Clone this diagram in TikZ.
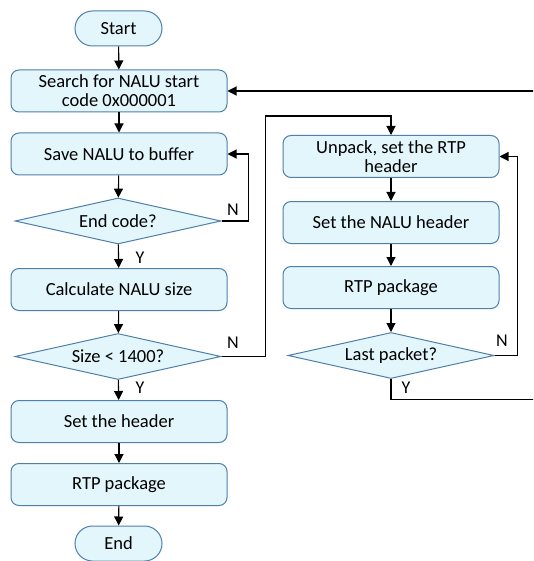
\documentclass[tikz,border=0pt]{standalone}
\usepackage{fontspec}
\setmainfont{Carlito}
\usetikzlibrary{shapes.geometric,shapes.misc,arrows.meta,calc}
\definecolor{boxfill}{RGB}{227,246,251}
\definecolor{boxline}{RGB}{78,128,170}
\tikzset{
  base/.style={draw=boxline, fill=boxfill, line width=1pt,
    font=\fontsize{18.5}{19}\selectfont, align=center, inner sep=0pt},
  proc/.style={base, rectangle, rounded corners=8pt,
    minimum width=216pt, minimum height=42pt},
  term/.style={base, rounded rectangle, minimum width=87pt, minimum height=35pt},
  decide/.style={base, diamond, aspect=4.5, minimum width=206pt, minimum height=46pt},
  arr/.style={draw=black, line width=1.1pt, -{Triangle[length=9pt,width=9pt]}},
  lab/.style={font=\fontsize{18}{19}\selectfont, inner sep=0pt}
}
\begin{document}
\begin{tikzpicture}[x=1pt,y=-1pt]
  \clip (0,0) rectangle (533,561);
  \fill[white] (0,0) rectangle (533,561);

  % main column
  \node[term]   (start)  at (118.5,28.5) {Start};
  \node[proc]   (search) at (119,91)    {Search for NALU start\\code 0x000001};
  \node[proc]   (save)   at (119,154)   {Save NALU to buffer};
  \node[decide] (endq)   at (118,221)   {End code?};
  \node[proc]   (calc)   at (119,289.5) {Calculate NALU size};
  \node[decide] (sizeq)  at (118,356.5) {Size < 1400?};
  \node[proc]   (hdr)    at (119,421.5) {Set the header};
  \node[proc]   (pkg)    at (119,484.5) {RTP package};
  \node[term]   (stop)   at (118.5,543.5) {End};

  % fragmentation column
  \node[proc]   (unpack) at (391,156.5) {Unpack, set the RTP\\header};
  \node[proc]   (nalu)   at (391,222.5) {Set the NALU header};
  \node[proc]   (rtp)    at (391,287.5) {RTP package};
  \node[decide] (lastq)  at (391,355.5) {Last packet?};

  % straight flow
  \draw[arr] (start) -- (search);
  \draw[arr] (search) -- (save);
  \draw[arr] (save) -- (endq);
  \draw[arr] (endq) -- (calc);
  \draw[arr] (calc) -- (sizeq);
  \draw[arr] (sizeq) -- (hdr);
  \draw[arr] (hdr) -- (pkg);
  \draw[arr] (pkg) -- (stop);
  \draw[arr] (unpack) -- (nalu);
  \draw[arr] (nalu) -- (rtp);
  \draw[arr] (rtp) -- (lastq);

  % loops and branches
  \draw[arr] (endq.east) -- ++(27,0) |- (save.east);
  \draw[arr] (sizeq.east) -- ++(44,0) |- ($(unpack.north)+(0,-19)$) -- (unpack.north);
  \draw[arr] (lastq.east) -- ++(23,0) |- (unpack.east);
  \draw[arr] (lastq.south) -- ++(0,20.5) -- ++(160,0) |- (search.east);

  % branch labels
  \node[lab] at (233,210) {N};
  \node[lab] at (140,258) {Y};
  \node[lab] at (233,343) {N};
  \node[lab] at (140,388) {Y};
  \node[lab] at (502,341) {N};
  \node[lab] at (406,388) {Y};
\end{tikzpicture}
\end{document}
